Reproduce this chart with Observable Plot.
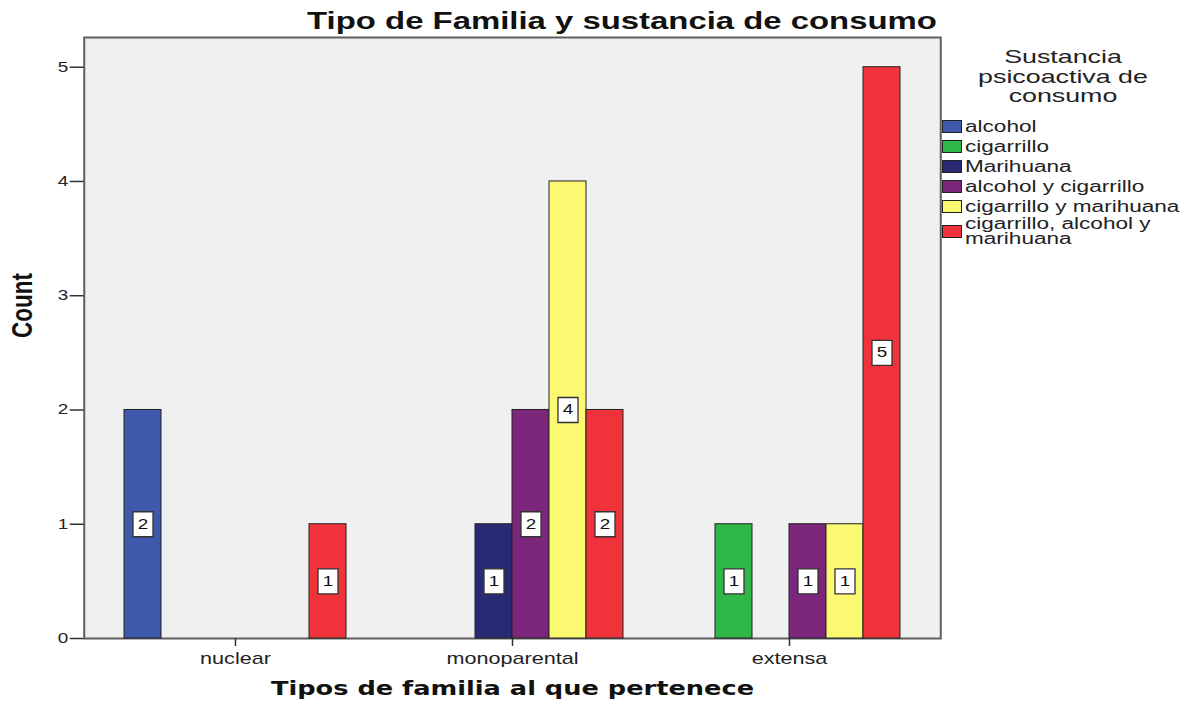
<!DOCTYPE html>
<html><head><meta charset="utf-8">
<script src="https://cdn.jsdelivr.net/npm/d3@7"></script>
<script src="https://cdn.jsdelivr.net/npm/@observablehq/plot@0.6"></script>
<style>
body{margin:0;background:#fff;font-family:"Liberation Sans",Arial,sans-serif;}
#wrap{position:relative;width:1187px;height:704px;overflow:hidden;}
#title{position:absolute;left:222px;width:800px;top:9px;text-align:center;font-family:"Liberation Sans",Arial,sans-serif;font-weight:bold;font-size:24px;line-height:24px;color:#111;transform:scaleX(1.37);transform-origin:center;white-space:nowrap;}
#chart{position:absolute;left:0;top:0;}
#ltitle{position:absolute;left:913px;width:300px;top:47px;text-align:center;font-size:19px;line-height:19.5px;color:#222;transform:scaleX(1.41);transform-origin:center;}
#litems{position:absolute;left:942px;top:116px;width:245px;color:#222;}
#litems .row{display:flex;align-items:center;height:20px;font-size:16px;line-height:15px;}
#litems .row.two{height:30px;}
#litems .sw{width:18px;height:11px;border:1.5px solid #222;margin-right:3px;flex:none;}
#litems .lab{display:inline-block;transform:scaleX(1.41);transform-origin:left center;white-space:nowrap;}
</style></head><body>
<div id="wrap">
<div id="chart"></div>
<div id="title">Tipo de Familia y sustancia de consumo</div>
<div id="ltitle"></div>
<div id="litems"></div>
</div>
<script>
const categories = ["nuclear", "monoparental", "extensa"];
const series = ["alcohol", "cigarrillo", "Marihuana", "alcohol y cigarrillo", "cigarrillo y marihuana", "cigarrillo, alcohol y marihuana"];
const colors = ["#3e58ab", "#2fb848", "#282a74", "#7c267c", "#fbf872", "#f0323b"];
// counts per series, in the order of categories
const alcohol = [2, 0, 0];
const cigarrillo = [0, 0, 1];
const marihuana = [0, 1, 0];
const alcoholCigarrillo = [0, 2, 1];
const cigarrilloMarihuana = [0, 4, 1];
const cigarrilloAlcoholMarihuana = [1, 2, 5];
const yTicks = [0, 1, 2, 3, 4, 5];
const titleY = "Count";
const titleX = "Tipos de familia al que pertenece";
const legendTitle = ["Sustancia", "psicoactiva de", "consumo"];
const legendLabels = [["alcohol"], ["cigarrillo"], ["Marihuana"], ["alcohol y cigarrillo"], ["cigarrillo y marihuana"], ["cigarrillo, alcohol y", "marihuana"]];

const seriesCounts = [alcohol, cigarrillo, marihuana, alcoholCigarrillo, cigarrilloMarihuana, cigarrilloAlcoholMarihuana];
const rows = [];
series.forEach((s, i) => categories.forEach((c, j) => {
  if (seriesCounts[i][j] > 0) rows.push({category: c, series: s, count: seriesCounts[i][j]});
}));

const W = 1187, H = 704, mL = 83, mR = 246, mT = 37, mB = 66;
const padIn = 0.2, padOut = 0.145;
// gap between the frame edge and the first/last facet (same band scale Plot builds)
const fxBand = d3.scaleBand(categories, [mL, W - mR]).paddingInner(padIn).paddingOuter(padOut);
const facetOffset = fxBand(categories[0]) - mL;
const stretch = 1.35; // the reference's text is drawn wide

const boxSymbol = {draw(ctx) { ctx.rect(-10, -12.5, 20, 25); }};

const plot = Plot.plot({
  width: W, height: H,
  marginLeft: mL, marginRight: mR, marginTop: mT, marginBottom: mB,
  style: {fontFamily: "'Liberation Sans', Arial, sans-serif", fontSize: "14px", color: "#222", background: "transparent"},
  fx: {domain: categories, paddingInner: padIn, paddingOuter: padOut, label: null},
  x: {domain: series, padding: 0, axis: null},
  y: {domain: [0, 5.26]},
  color: {domain: series, range: colors},
  marks: [
    Plot.frame({facet: "super", fill: "#f0f0f0", stroke: "#5e5e5e", strokeWidth: 2, insetLeft: -facetOffset, insetRight: -facetOffset}),
    Plot.axisFx({anchor: "bottom", tickSize: 8, tickPadding: 6, fontSize: 16, stroke: "#333", strokeWidth: 1.5, label: null}),
    Plot.axisY({ticks: yTicks, tickSize: 14, tickPadding: 2, fontSize: 14, stroke: "#333", strokeWidth: 1.5, label: null, tickFormat: d3.format("d"), dx: -facetOffset}),
    Plot.barY(rows, {fx: "category", x: "series", y: "count", fill: "series", stroke: "#222", strokeWidth: 1}),
    Plot.dot(rows, {fx: "category", x: "series", y: d => d.count / 2, symbol: boxSymbol, fill: "white", stroke: "#333", strokeWidth: 1.3}),
    Plot.text(rows, {fx: "category", x: "series", y: d => d.count / 2, text: "count", fontSize: 14, fill: "#111"}),
    Plot.text([titleY], {facet: "super", frameAnchor: "left", text: d => d, rotate: -90, dx: -61.5 - facetOffset, fontSize: 22.5, fontWeight: "bold", fill: "#111"}),
    Plot.text([titleX], {facet: "super", frameAnchor: "bottom", text: d => d, dy: 56, fontSize: 19, fontWeight: "bold", fontFamily: "'DejaVu Sans', sans-serif", fill: "#111"})
  ]
});
// widen every text about its own anchor point, as in the reference
d3.select(plot).selectAll("text").each(function() {
  const t = this.getAttribute("transform") || "";
  this.setAttribute("transform", t + (t.includes("rotate") ? ` scale(1,${stretch})` : ` scale(${stretch},1)`));
});
document.getElementById("chart").appendChild(plot);

document.getElementById("ltitle").innerHTML = legendTitle.join("<br>");
const color = plot.scale("color");
const items = document.getElementById("litems");
series.forEach((s, i) => {
  const r = document.createElement("div");
  r.className = "row" + (legendLabels[i].length > 1 ? " two" : "");
  const sw = document.createElement("div");
  sw.className = "sw";
  sw.style.background = color.apply(s);
  const t = document.createElement("span");
  t.className = "lab";
  t.innerHTML = legendLabels[i].join("<br>");
  r.appendChild(sw); r.appendChild(t);
  items.appendChild(r);
});
</script>
</body></html>
